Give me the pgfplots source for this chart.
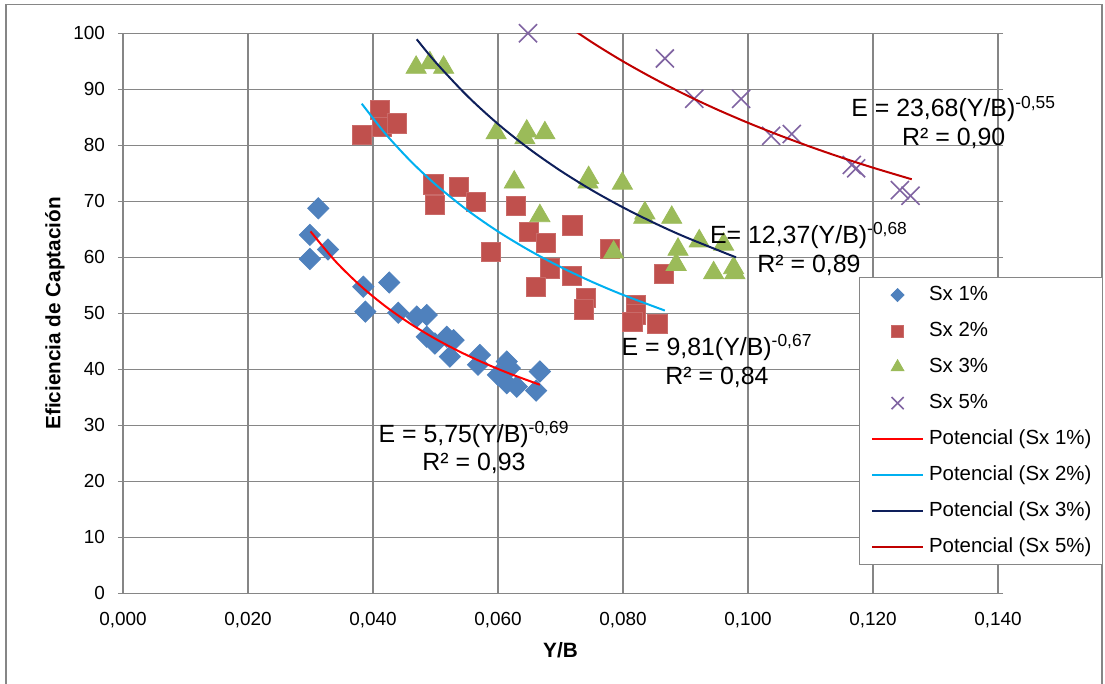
\documentclass[border=0pt]{standalone}
\usepackage{fontspec}
\setmainfont{Liberation Sans}
\usepackage{pgfplots}
\pgfplotsset{compat=1.18}
\definecolor{cblue}{HTML}{4F81BD}
\definecolor{cred}{HTML}{C0504D}
\definecolor{cgreen}{HTML}{9BBB59}
\definecolor{cpurple}{HTML}{8064A2}
\definecolor{tred}{HTML}{FF0000}
\definecolor{tcyan}{HTML}{00B0F0}
\definecolor{tnavy}{HTML}{0E1F5B}
\definecolor{tdred}{HTML}{C00000}
\definecolor{gridgray}{HTML}{868686}
\pgfplotsset{
  markleg/.style={legend image code/.code={\draw[mark repeat=2,mark phase=2,##1,mark size=#1] plot coordinates {(0bp,0bp) (12.75bp,0bp) (25.5bp,0bp)};}},
  lineleg/.style={legend image code/.code={\draw[##1] (0bp,0bp) -- (25.5bp,0bp);}},
}
\begin{document}
\begin{tikzpicture}
\path[use as bounding box] (-61.5bp,-45.35bp) rectangle (491bp,296.65bp);
\draw[gridgray, line width=0.6bp] (-58.5bp,-50bp) -- (-58.5bp,294.2bp) -- (489.5bp,294.2bp) -- (489.5bp,-50bp);
\begin{axis}[
  scale only axis, width=437.5bp, height=280bp,
  at={(0,0)}, anchor=south west,
  xmin=0, xmax=0.14, ymin=0, ymax=100,
  xtick={0,0.02,0.04,0.06,0.08,0.1,0.12,0.14},
  ytick={0,10,20,30,40,50,60,70,80,90,100},
  scaled x ticks=false,
  grid=major, major grid style={gridgray, line width=0.75bp},
  axis line style={gridgray, line width=0.75bp},
  tick align=outside, major tick length=2.5bp,
  ytick style={gridgray, line width=0.75bp},
  xtick style={draw=none},
  clip mode=individual,
  /pgf/number format/assume math mode=true,
  tick label style={font=\fontsize{9.5}{10}\selectfont, black},
  xticklabel style={/pgf/number format/fixed, /pgf/number format/fixed zerofill, /pgf/number format/precision=3, /pgf/number format/use comma, yshift=-3.5bp},
  yticklabel style={/pgf/number format/fixed, /pgf/number format/precision=0, xshift=-3bp},
  xlabel={\textbf{Y/B}},
  ylabel={\textbf{Eficiencia de Captación}},
  label style={font=\fontsize{10.4}{12}\selectfont},
  xlabel style={at={(axis description cs:0.5,0)}, anchor=center, yshift=-28.5bp},
  ylabel style={at={(axis description cs:0,0.5)}, anchor=center, yshift=34bp},
  legend cell align=left,
  legend style={
    at={(rel axis cs:0.8411,0.5648)}, anchor=north west,
    draw=gridgray, fill=white, line width=0.6bp,
    font=\fontsize{10.25}{12}\selectfont,
    inner xsep=5.75bp, inner ysep=3.5bp,
    row sep=7.5bp, column sep=2.5bp,
    nodes={inner sep=0pt, text height=8bp, text depth=2.5bp},
  },
]
% Sx 1%
\addplot[only marks, color=cblue, mark=square*, mark size=3.75bp, mark options={rotate=45, fill=cblue, draw=cblue, line width=0.4bp}, markleg=2.3bp] coordinates {
(0.03125,68.75) (0.0299,64.0) (0.0328,61.4) (0.0299,59.7) (0.03845,54.75) (0.0426,55.5)
(0.03877,50.3) (0.04405,50.1) (0.0470,49.4) (0.0486,49.7) (0.0486,45.8) (0.0499,44.6)
(0.0518,45.8) (0.0529,45.2) (0.0523,42.25) (0.0571,42.55) (0.0568,40.8) (0.0614,41.4)
(0.0619,40.2) (0.0600,39.0) (0.0614,37.5) (0.0630,36.9) (0.0667,39.6) (0.0661,36.2)
};
\addlegendentry{Sx 1\%}
% Sx 2%
\addplot[only marks, color=cred, mark=square*, mark size=4.8bp, mark options={fill=cred, draw=cred!85!white, line width=0.4bp}, markleg=3.1bp] coordinates {
(0.0382,81.8) (0.0411,86.3) (0.0414,83.3) (0.0438,83.9) (0.04965,73.0) (0.0499,69.3)
(0.0538,72.6) (0.0564,69.9) (0.0589,61.0) (0.0628,69.2) (0.0650,64.6) (0.0676,62.6)
(0.0719,65.7) (0.0683,58.0) (0.0660,54.75) (0.0718,56.7) (0.0740,52.7) (0.0738,50.7)
(0.0779,61.5) (0.0866,57.1) (0.0821,51.5) (0.0821,49.8) (0.0815,48.5) (0.0855,48.1)
};
\addlegendentry{Sx 2\%}
% Sx 3%
\addplot[only marks, color=cgreen, mark=triangle*, mark size=5.8bp, mark options={fill=cgreen, draw=cgreen, line width=0.4bp}, markleg=3.7bp] coordinates {
(0.0469,93.9) (0.0491,94.7) (0.0513,93.9) (0.0597,82.2) (0.0646,82.5) (0.0643,81.3)
(0.0675,82.2) (0.0626,73.4) (0.0667,67.4) (0.0745,74.2) (0.0744,73.4) (0.0799,73.2)
(0.0785,60.9) (0.0835,67.9) (0.0833,67.1) (0.0878,67.1) (0.0888,61.4) (0.0885,58.7)
(0.0922,62.9) (0.0961,62.3) (0.0945,57.2) (0.0977,58.1) (0.0979,57.2)
};
\addlegendentry{Sx 3\%}
% Sx 5%
\addplot[only marks, color=cpurple, mark=x, mark size=6.4bp, mark options={draw=cpurple, line width=0.8bp}, markleg=4.3bp] coordinates {
(0.0648,100) (0.0867,95.5) (0.0914,88.3) (0.0989,88.3) (0.1037,81.7) (0.1070,82.0)
(0.1166,76.5) (0.1173,75.9) (0.1243,72.0) (0.1260,71.0)
};
\addlegendentry{Sx 5\%}
% trend lines
\addplot[tred, line width=1bp, smooth, no marks, lineleg] coordinates {
(0.030,64.63) (0.034,59.28) (0.038,54.91) (0.042,51.24) (0.046,48.12) (0.050,45.43)
(0.054,43.08) (0.058,41.01) (0.062,39.17) (0.0667,37.24)
};
\addlegendentry{Potencial (Sx 1\%)}
\addplot[tcyan, line width=1bp, smooth, no marks, lineleg] coordinates {
(0.0382,87.43) (0.042,82.05) (0.046,77.20) (0.050,73.01) (0.055,68.49) (0.060,64.61)
(0.065,61.24) (0.070,58.27) (0.075,55.64) (0.080,53.29) (0.0867,50.49)
};
\addlegendentry{Potencial (Sx 2\%)}
\addplot[tnavy, line width=1bp, smooth, no marks, lineleg] coordinates {
(0.047,98.93) (0.050,94.86) (0.055,88.91) (0.060,83.80) (0.065,79.36) (0.070,75.46)
(0.075,72.00) (0.080,68.91) (0.085,66.13) (0.090,63.61) (0.0981,59.98)
};
\addlegendentry{Potencial (Sx 3\%)}
\addplot[tdred, line width=1bp, smooth, no marks, lineleg] coordinates {
(0.065,106.48) (0.070,102.23) (0.075,98.42) (0.080,94.99) (0.085,91.88) (0.090,89.03)
(0.095,86.42) (0.100,84.02) (0.105,81.80) (0.110,79.73) (0.115,77.80) (0.120,76.00)
(0.1262,73.93)
};
\addlegendentry{Potencial (Sx 5\%)}
% equations
\node[align=center, font=\fontsize{12.5}{14.5}\selectfont] at (axis cs:0.05616,26.0) {E = 5,75(Y/B)\textsuperscript{-0,69}\\R² = 0,93};
\node[align=center, font=\fontsize{12.5}{14.5}\selectfont] at (axis cs:0.09504,41.5) {E = 9,81(Y/B)\textsuperscript{-0,67}\\R² = 0,84};
\node[align=center, font=\fontsize{12.5}{14.5}\selectfont] at (axis cs:0.10976,61.5) {E= 12,37(Y/B)\textsuperscript{-0,68}\\R² = 0,89};
\node[align=center, font=\fontsize{12.5}{14.5}\selectfont] at (axis cs:0.13291,84.1) {E = 23,68(Y/B)\textsuperscript{-0,55}\\R² = 0,90};
\end{axis}
\end{tikzpicture}
\end{document}
